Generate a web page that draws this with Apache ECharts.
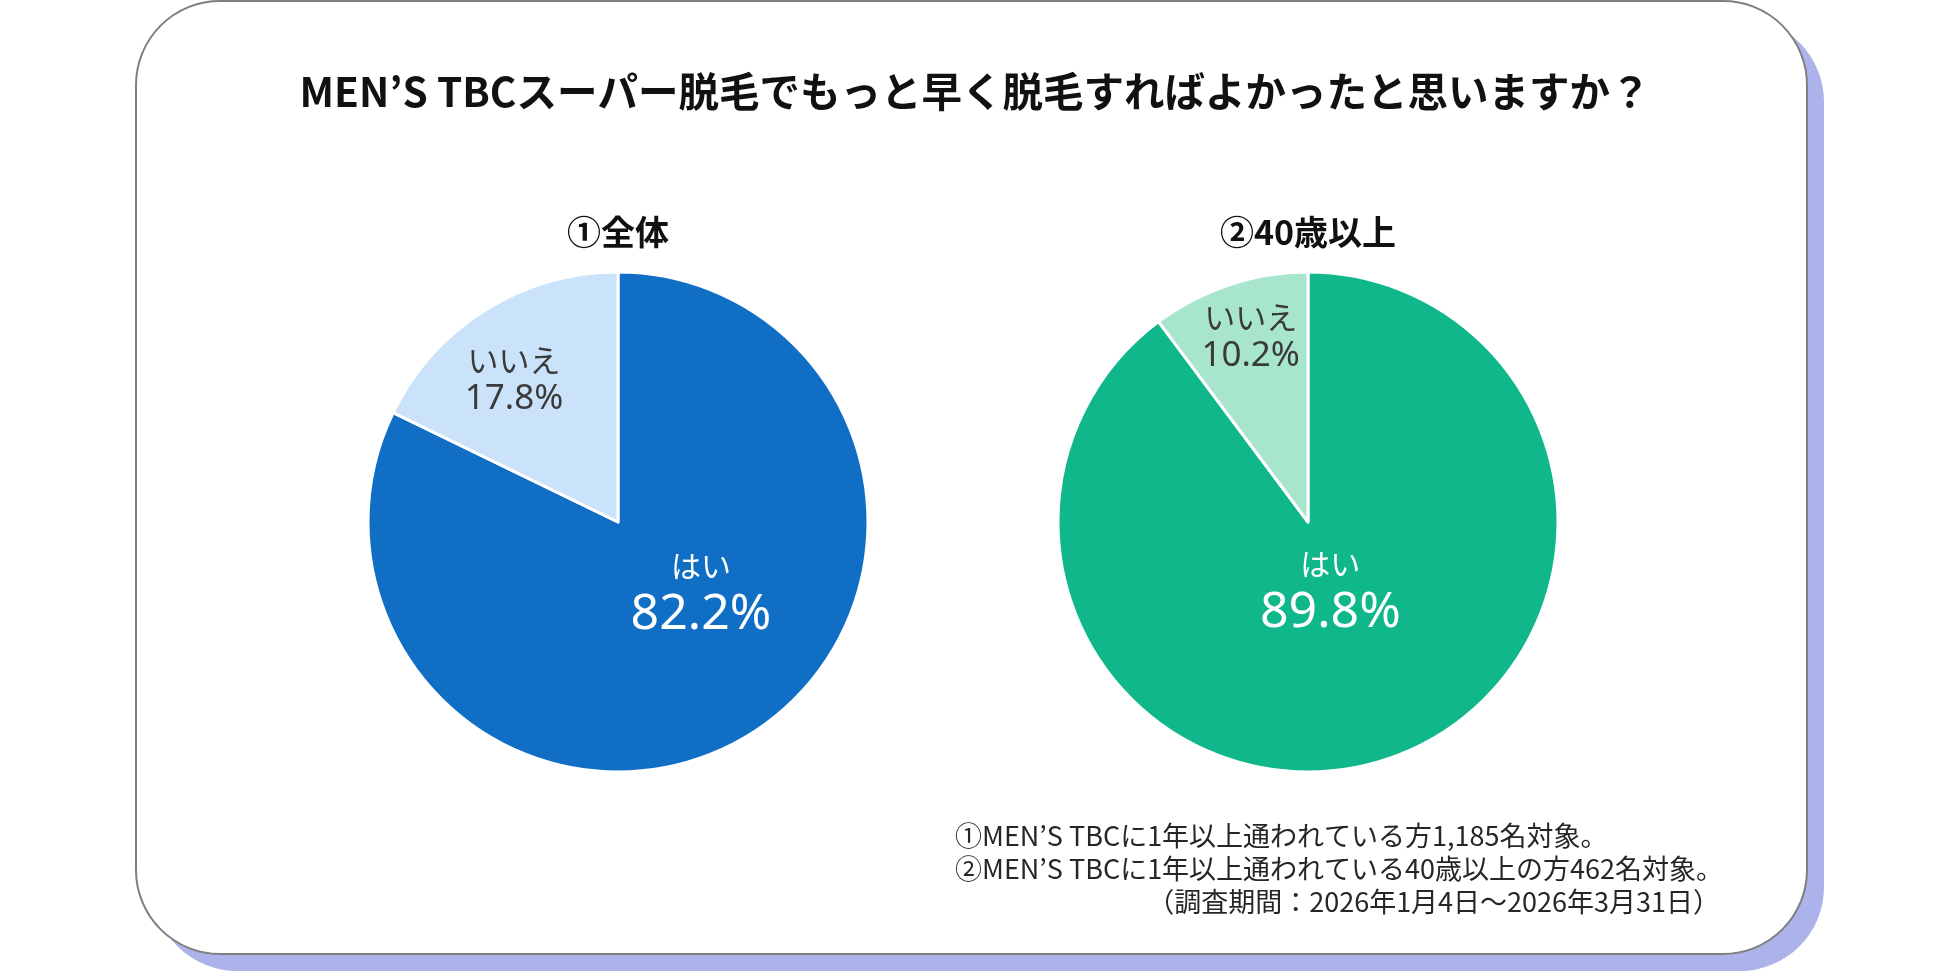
<!DOCTYPE html>
<html>
<head>
<meta charset="utf-8">
<script src="https://cdn.jsdelivr.net/npm/echarts@6/dist/echarts.min.js"></script>
<style>
  html, body { margin: 0; padding: 0; background: #fff; }
  #main { width: 1950px; height: 973px; }
</style>
</head>
<body>
<div id="main"></div>
<script>
// data
var mainTitle = 'MEN’S TBCスーパー脱毛でもっと早く脱毛すればよかったと思いますか？';
var pieTitles = ['①全体', '②40歳以上'];
var answers = ['はい', 'いいえ'];
var allValues = [82.2, 17.8];
var over40Values = [89.8, 10.2];
var notes = [
    '①MEN’S TBCに1年以上通われている方1,185名対象。',
    '②MEN’S TBCに1年以上通われている40歳以上の方462名対象。',
    '（調査期間：2026年1月4日～2026年3月31日）'
];

var FONT = '"Noto Sans CJK JP", "Noto Sans", sans-serif';
var LABEL_FONT = '"Noto Sans", "Noto Sans CJK JP", sans-serif';

var chart = echarts.init(document.getElementById('main'));

// builds a pie; colors = [yes, no], offsets tweak label spots
var makePie = function(values, center, colors, offsets, bigSize) {
    return {
        type: 'pie',
        center: center,
        radius: 250,
        startAngle: 90,
        clockwise: true,
        silent: true,
        itemStyle: { borderColor: '#fff', borderWidth: 3 },
        labelLine: { show: false },
        data: [
            {
                name: answers[0], value: values[0],
                itemStyle: { color: colors[0] },
                label: {
                    show: true, position: 'inside', offset: offsets[0],
                    formatter: '{n|{b}}\n{v|{c}%}',
                    rich: {
                        n: { fontFamily: FONT, fontSize: 30, color: '#fff', lineHeight: 46 },
                        v: { fontFamily: LABEL_FONT, fontSize: bigSize, color: '#fff', lineHeight: 52 }
                    }
                }
            },
            {
                name: answers[1], value: values[1],
                itemStyle: { color: colors[1] },
                label: {
                    show: true, position: 'inside', offset: offsets[1],
                    formatter: '{n|{b}}\n{v|{c}%}',
                    rich: {
                        n: { fontFamily: FONT, fontSize: 31, color: '#3a3a3a', lineHeight: 38 },
                        v: { fontFamily: LABEL_FONT, fontSize: 35, color: '#3a3a3a', lineHeight: 40 }
                    }
                }
            }
        ]
    };
};

var option = {
    backgroundColor: '#fff',
    animation: false,
    graphic: [
        // card shadow
        {
            type: 'rect', z: -2,
            shape: { x: 153, y: 18, width: 1671, height: 953, r: 84 },
            style: { fill: '#ACB2EA' }
        },
        // card
        {
            type: 'rect', z: -1,
            shape: { x: 136, y: 1, width: 1671, height: 953, r: 84 },
            style: { fill: '#fff', stroke: '#7f7f7f', lineWidth: 2 }
        },
        {
            type: 'text', left: 955, top: 822,
            style: { text: notes[0], font: '27px ' + FONT, fill: '#262626' }
        },
        {
            type: 'text', left: 955, top: 855,
            style: { text: notes[1], font: '27px ' + FONT, fill: '#262626' }
        },
        {
            type: 'text', right: 230, top: 888,
            style: { text: notes[2], font: '27px ' + FONT, fill: '#262626' }
        }
    ],
    title: [
        {
            text: mainTitle, left: 'center', top: 71, padding: 0,
            textStyle: { fontFamily: FONT, fontSize: 40.5, fontWeight: 'bold', color: '#111' }
        },
        {
            text: pieTitles[0], left: 618, top: 215, padding: 0, textAlign: 'center',
            textStyle: { fontFamily: FONT, fontSize: 34, fontWeight: 'bold', color: '#111' }
        },
        {
            text: pieTitles[1], left: 1308, top: 215, padding: 0, textAlign: 'center',
            textStyle: { fontFamily: FONT, fontSize: 34, fontWeight: 'bold', color: '#111' }
        }
    ],
    series: [
        makePie(allValues, [618, 522], ['#106FC5', '#CAE3FA'], [[15, -39], [-36, -33]], 50),
        makePie(over40Values, [1308, 522], ['#10B78A', '#A7E5CD'], [[-18, -54], [-17, -63]], 50)
    ]
};

chart.setOption(option);
</script>
</body>
</html>
